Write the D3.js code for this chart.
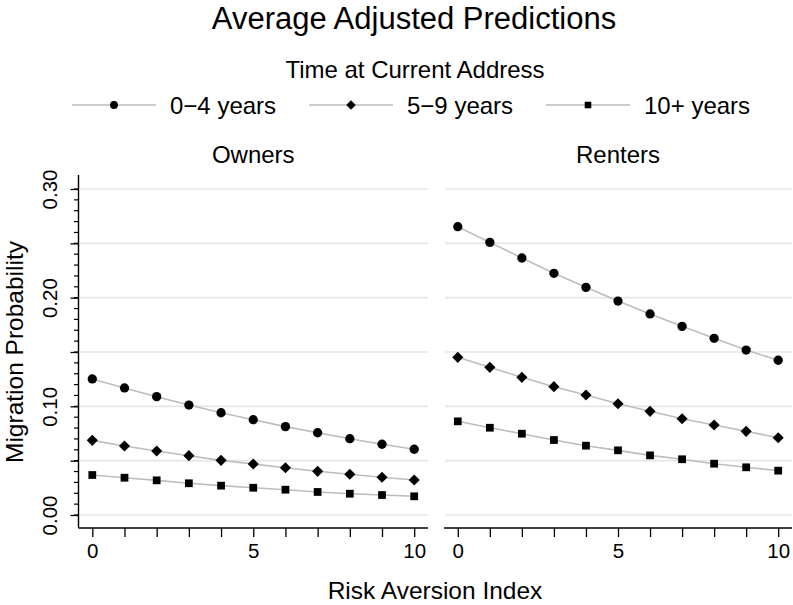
<!DOCTYPE html>
<html>
<head>
<meta charset="utf-8">
<script src="https://cdn.jsdelivr.net/npm/d3@7"></script>
<style>
body{margin:0;background:#fff;}
text{font-family:"Liberation Sans",Arial,Helvetica,sans-serif;fill:#000;}
</style>
</head>
<body>
<div id="chart"></div>
<script>
// data
var riskIndex = [0,1,2,3,4,5,6,7,8,9,10];
var groups = ["0\u22124 years","5\u22129 years","10+ years"];
var panelNames = ["Owners","Renters"];

var owners04  = [0.1252,0.1169,0.1089,0.1012,0.0941,0.0877,0.0813,0.0757,0.0702,0.0651,0.0605];
var owners59  = [0.0687,0.0635,0.0589,0.0546,0.0503,0.0469,0.0435,0.0402,0.0375,0.0347,0.0322];
var owners10  = [0.0368,0.0343,0.0319,0.0292,0.0270,0.0251,0.0233,0.0212,0.0196,0.0184,0.0172];
var renters04 = [0.2653,0.2509,0.2365,0.2224,0.2095,0.1969,0.1850,0.1736,0.1626,0.1518,0.1424];
var renters59 = [0.1451,0.1359,0.1267,0.1181,0.1104,0.1024,0.0954,0.0886,0.0828,0.0770,0.0711];
var renters10 = [0.0862,0.0803,0.0748,0.0690,0.0638,0.0595,0.0549,0.0513,0.0472,0.0439,0.0408];

var yMajor = [0,0.05,0.10,0.15,0.20,0.25,0.30];
var yLabels = [0,0.10,0.20,0.30];
var xLabels = [0,5,10];

function init(){

var w = 793;
var h = 605;

var svg = d3.select("#chart")
    .append("svg")
    .attr("width", w)
    .attr("height", h);

var panelData = [
    {name: panelNames[0], series: [owners04, owners59, owners10], left: 78.5, right: 428},
    {name: panelNames[1], series: [renters04, renters59, renters10], left: 444, right: 792}
];

var y = d3.scaleLinear().domain([0, 0.30]).range([515, 189]);
var plotTop = 175, plotBottom = 528;

var shapes = [
    d3.symbol().type(d3.symbolCircle).size(68),
    d3.symbol().type(d3.symbolSquare).size(62),
    d3.symbol().type(d3.symbolSquare).size(60)
];
var rot = [0, 45, 0];

// title + legend
svg.append("text").attr("x", 414).attr("y", 29).attr("text-anchor","middle")
    .style("font-size","31px").text("Average Adjusted Predictions");
svg.append("text").attr("x", 415).attr("y", 78).attr("text-anchor","middle")
    .style("font-size","24px").text("Time at Current Address");

var legX = [72, 309, 546];
var leg = svg.selectAll("g.leg")
    .data(groups)
    .enter()
    .append("g")
    .attr("class","leg")
    .attr("transform", function(d,i){ return "translate(" + legX[i] + ",105)"; });
leg.append("line").attr("x1",0).attr("x2",84).attr("y1",0).attr("y2",0)
    .attr("stroke","#bdbdbd").attr("stroke-width",1.5);
leg.append("path")
    .attr("d", function(d,i){ return shapes[i](); })
    .attr("transform", function(d,i){ return "translate(42,0) rotate(" + rot[i] + ") scale(0.85)"; })
    .attr("fill","#000");
leg.append("text").attr("x",98).attr("y",8.5)
    .style("font-size","24px")
    .text(function(d){ return d; });

panelData.forEach(function(p, pi){

    var x = d3.scaleLinear().domain([0,10]).range([p.left + 13.8, p.right - 13.8]);
    var g = svg.append("g");

    // gridlines
    g.selectAll("line.grid")
        .data(yMajor)
        .enter()
        .append("line")
        .attr("x1", p.left + 1).attr("x2", p.right)
        .attr("y1", function(d){ return y(d); })
        .attr("y2", function(d){ return y(d); })
        .attr("stroke","#e6e6e6")
        .attr("stroke-width",1.6);

    // panel title
    g.append("text")
        .attr("x", (p.left + p.right)/2).attr("y", 163)
        .attr("text-anchor","middle")
        .style("font-size","24px")
        .text(p.name);

    // x axis
    var xAxis = d3.axisBottom(x)
        .tickValues(riskIndex)
        .tickSize(9)
        .tickSizeOuter(0)
        .tickFormat(function(d){ return xLabels.indexOf(d) >= 0 ? d : ""; });
    var xg = g.append("g").attr("transform","translate(0," + plotBottom + ")").call(xAxis)
        .attr("font-size", 20).attr("font-family", null);
    xg.select(".domain").remove();
    xg.selectAll(".tick line").attr("stroke","#000").attr("stroke-width",1.3);
    xg.selectAll(".tick text").style("font-size","20.5px").attr("fill","#000")
        .attr("dy", null).attr("y", 30);
    g.append("line")
        .attr("x1", p.left).attr("x2", p.right)
        .attr("y1", plotBottom).attr("y2", plotBottom)
        .attr("stroke","#000").attr("stroke-width",1.4);

    // y axis only on the left panel
    if(pi === 0){
        var minor = d3.range(0, 31).map(function(i){ return i/100; });
        g.selectAll("line.minor")
            .data(minor)
            .enter()
            .append("line")
            .attr("x1", p.left - 4.5).attr("x2", p.left)
            .attr("y1", function(d){ return y(d); })
            .attr("y2", function(d){ return y(d); })
            .attr("stroke","#000").attr("stroke-width",1.2);

        var yAxis = d3.axisLeft(y)
            .tickValues(yMajor)
            .tickSize(8)
            .tickSizeOuter(0)
            .tickFormat(function(d){
                return yLabels.some(function(v){ return Math.abs(v-d) < 1e-9; }) ? d3.format(".2f")(d) : "";
            });
        var yg = g.append("g").attr("transform","translate(" + p.left + ",0)").call(yAxis)
            .attr("font-size", 20).attr("font-family", null);
        yg.select(".domain").remove();
        yg.selectAll(".tick line").attr("stroke","#000").attr("stroke-width",1.3);
        yg.selectAll(".tick text")
            .style("font-size","20.5px").attr("fill","#000")
            .attr("text-anchor","middle")
            .attr("x", 0).attr("dy", null)
            .attr("y", -22)
            .attr("transform","rotate(-90)");
        g.append("line")
            .attr("x1", p.left).attr("x2", p.left)
            .attr("y1", plotTop).attr("y2", plotBottom)
            .attr("stroke","#000").attr("stroke-width",1.4);
    }

    var line = d3.line()
        .x(function(d,i){ return x(riskIndex[i]); })
        .y(function(d){ return y(d); });

    p.series.forEach(function(s, si){
        g.append("path")
            .datum(s)
            .attr("d", line)
            .attr("fill","none")
            .attr("stroke","#bdbdbd")
            .attr("stroke-width",1.6);
        g.selectAll("path.m" + si)
            .data(s)
            .enter()
            .append("path")
            .attr("class","m" + si)
            .attr("d", shapes[si]())
            .attr("transform", function(d,i){
                return "translate(" + x(riskIndex[i]) + "," + y(d) + ") rotate(" + rot[si] + ")";
            })
            .attr("fill","#000");
    });
});

// axis titles
svg.append("text")
    .attr("transform","translate(23," + y(0.15) + ") rotate(-90)")
    .attr("text-anchor","middle")
    .style("font-size","24.5px")
    .text("Migration Probability");
svg.append("text")
    .attr("x", 435).attr("y", 599)
    .attr("text-anchor","middle")
    .style("font-size","24.5px")
    .text("Risk Aversion Index");
}

window.onload = init;
</script>
</body>
</html>
